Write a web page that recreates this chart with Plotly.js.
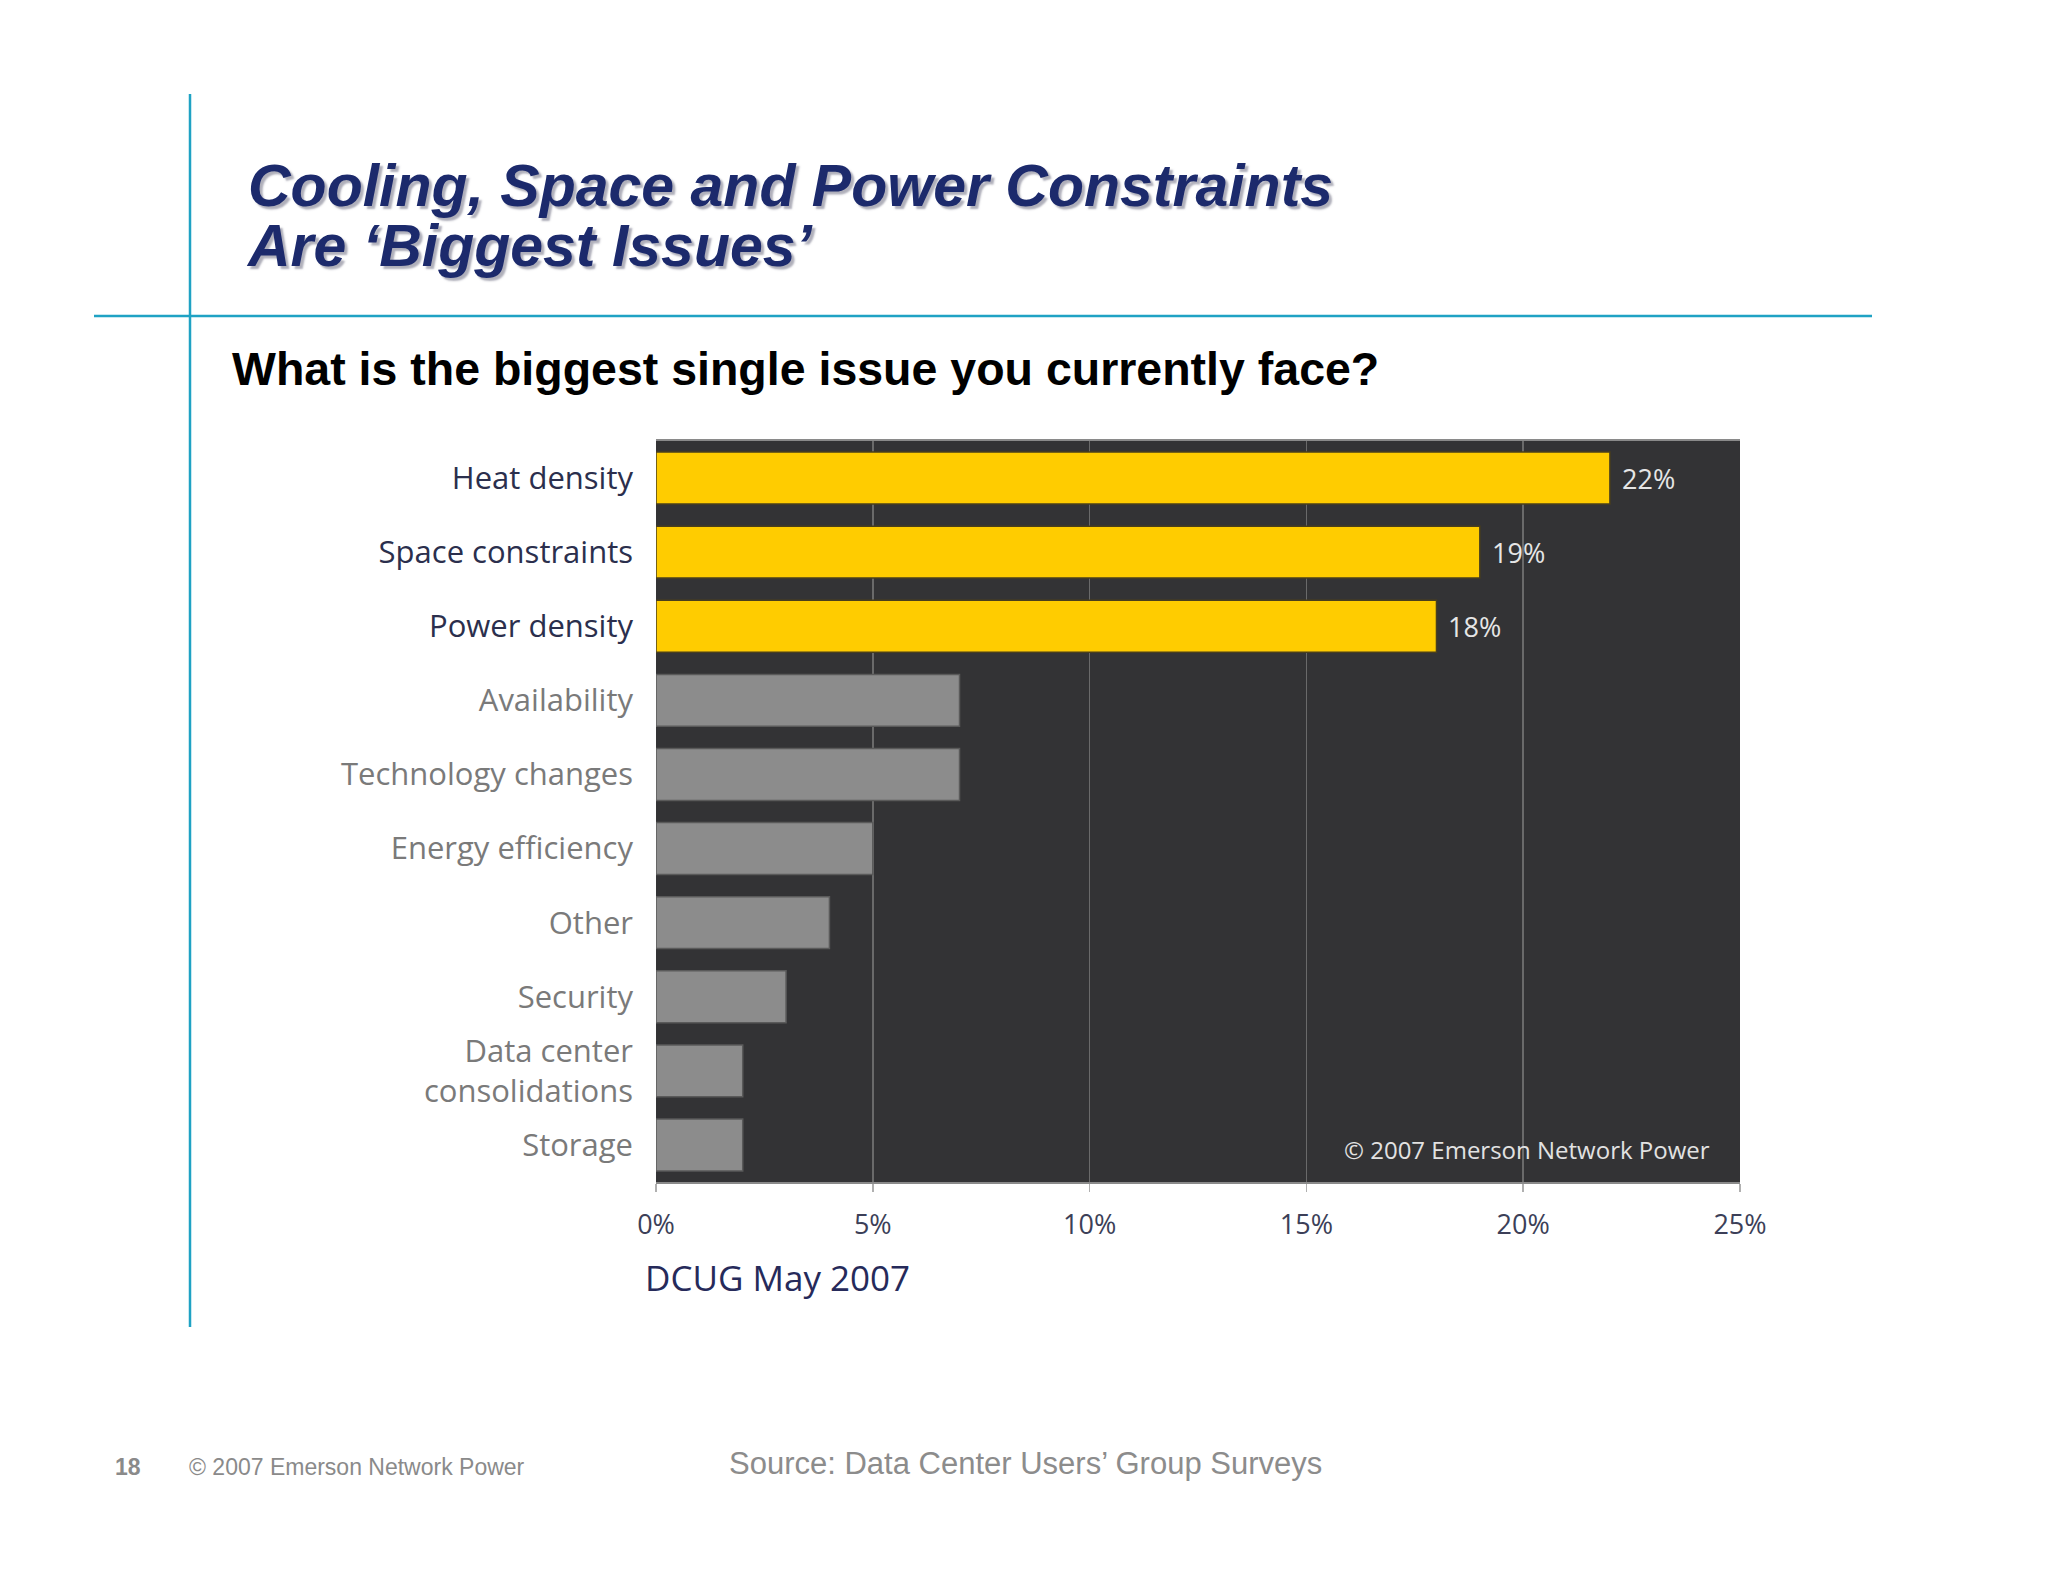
<!DOCTYPE html>
<html>
<head>
<meta charset="utf-8">
<script src="https://cdn.plot.ly/plotly-3.0.1.min.js"></script>
<style>html,body{margin:0;padding:0;background:#fff;}#chart{width:2048px;height:1582px;}</style>
</head>
<body>
<div id="chart"></div>
<script>
// ---- data ----
const categories = ["Heat density", "Space constraints", "Power density", "Availability",
  "Technology changes", "Energy efficiency", "Other", "Security",
  "Data center<br>consolidations", "Storage"];
const values = [22, 19, 18, 7, 7, 5, 4, 3, 2, 2];
const highlighted = [true, true, true, false, false, false, false, false, false, false];
const xTickValues = [0, 5, 10, 15, 20, 25];
const xTickLabels = ["0%", "5%", "10%", "15%", "20%", "25%"];

const titleLine1 = "Cooling, Space and Power Constraints";
const titleLine2 = "Are \u2018Biggest Issues\u2019";
const subtitle = "What is the biggest single issue you currently face?";
const surveyLabel = "DCUG May 2007";
const watermark = "\u00A9 2007 Emerson Network Power";
const pageNumber = "18";
const footerCopy = "\u00A9 2007 Emerson Network Power";
const sourceText = "Source: Data Center Users\u2019 Group Surveys";

// ---- layout geometry (pixels) ----
const W = 2048, H = 1582;
const L = 656, R = 1740, T = 441, B = 1182;
const px = x => (x - L) / (R - L);
const py = y => (B - y) / (B - T);

const YELLOW = "#FFCC00", GREY = "#8c8c8c";
const barColors = highlighted.map(h => h ? YELLOW : GREY);
const barLines = highlighted.map(h => h ? "#4a3f1c" : "#5a5a5a");
const labelColors = highlighted.map(h => h ? "#2b2f4d" : "#7a7a7a");
const tickText = categories.map((c, i) => `<span style="color:${labelColors[i]}">${c}</span>`);

const trace = {
  type: "bar",
  orientation: "h",
  y: categories,
  x: values,
  width: 0.7,
  marker: { color: barColors, line: { color: barLines, width: 1.5 } },
  hoverinfo: "x+y"
};

const annotations = [];
// value labels for highlighted bars
values.forEach((v, i) => {
  if (highlighted[i]) {
    annotations.push({
      x: v, y: categories[i], xref: "x", yref: "y",
      text: v + "%", showarrow: false, xanchor: "left", yanchor: "middle",
      xshift: 10,
      font: { family: "Open Sans, sans-serif", size: 27, color: "#e6e6e6" }
    });
  }
});

function paperText(text, x, y, opts) {
  return Object.assign({
    text: text, x: px(x), y: py(y), xref: "paper", yref: "paper",
    showarrow: false, xanchor: "left", yanchor: "middle"
  }, opts);
}

const titleFont = { family: "Liberation Sans, Arial, sans-serif", size: 59, color: "#1c2a6c",
  weight: "bold", style: "italic", shadow: "3px 3px 2px rgba(110,110,130,0.55)" };
annotations.push(paperText(titleLine1, 246, 186, { font: titleFont }));
annotations.push(paperText(titleLine2, 244, 246, { font: titleFont }));
annotations.push(paperText(subtitle, 230, 369, {
  font: { family: "Liberation Sans, Arial, sans-serif", size: 46.5, color: "#000000", weight: "bold" }
}));
annotations.push(paperText(surveyLabel, 643, 1277, {
  font: { family: "Open Sans, sans-serif", size: 35, color: "#262a5a" }
}));
annotations.push(paperText(watermark, 1712, 1149, {
  xanchor: "right",
  font: { family: "Open Sans, sans-serif", size: 24, color: "#e2e2e2" }
}));
annotations.push(paperText(pageNumber, 113, 1467, {
  font: { family: "Liberation Sans, Arial, sans-serif", size: 23, color: "#8a8a8a", weight: "bold" }
}));
annotations.push(paperText(footerCopy, 187, 1467, {
  font: { family: "Liberation Sans, Arial, sans-serif", size: 23, color: "#8a8a8a" }
}));
annotations.push(paperText(sourceText, 727, 1463, {
  font: { family: "Liberation Sans, Arial, sans-serif", size: 31, color: "#8c8c8c" }
}));

const CYAN = "#1fa2c4";
const shapes = [
  { type: "line", xref: "paper", yref: "paper", x0: px(190), x1: px(190), y0: py(94), y1: py(1327),
    line: { color: CYAN, width: 2.5 } },
  { type: "line", xref: "paper", yref: "paper", x0: px(94), x1: px(1872), y0: py(316), y1: py(316),
    line: { color: CYAN, width: 2.5 } }
];

const layout = {
  width: W, height: H,
  margin: { l: L, r: W - R, t: T, b: H - B, pad: 0 },
  paper_bgcolor: "#ffffff",
  plot_bgcolor: "#333335",
  showlegend: false,
  bargap: 0.3,
  xaxis: {
    range: [0, 25], tickvals: xTickValues, ticktext: xTickLabels,
    showgrid: true, gridcolor: "#6a6a6a", gridwidth: 1.5,
    zeroline: false,
    showline: true, mirror: true, linecolor: "#8a8a8a", linewidth: 2,
    ticks: "outside", ticklen: 8, tickcolor: "#b0b0b0", tickwidth: 1.5,
    ticklabelstandoff: 10,
    tickfont: { family: "Open Sans, sans-serif", size: 27, color: "#3c3f58" },
    fixedrange: true
  },
  yaxis: {
    type: "category",
    range: [9.5, -0.5],
    tickvals: categories, ticktext: tickText,
    showgrid: false, zeroline: false,
    showline: false,
    ticks: "", ticklabelstandoff: 22,
    tickfont: { family: "Open Sans, sans-serif", size: 31, color: "#2b2f4d" },
    fixedrange: true
  },
  annotations: annotations,
  shapes: shapes
};

Plotly.newPlot("chart", [trace], layout, { displayModeBar: false, staticPlot: true });
</script>
</body>
</html>
